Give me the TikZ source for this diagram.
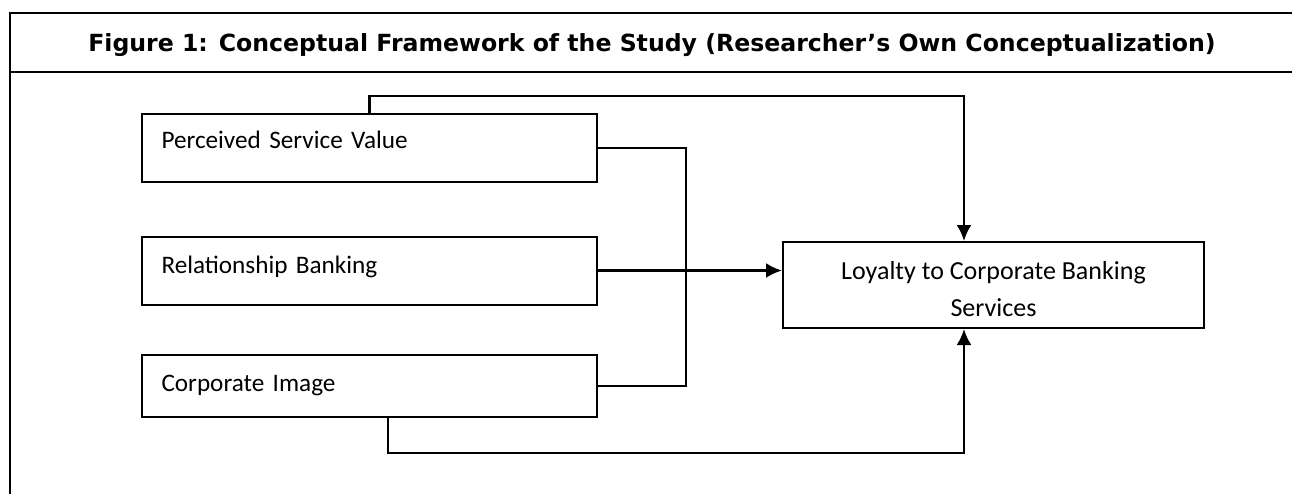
\documentclass[tikz,border=0pt]{standalone}
\usepackage{fontspec}
\setmainfont{Carlito}
\newfontfamily\headfont{DejaVu Sans}
\usetikzlibrary{positioning, arrows.meta}

\begin{document}
\begin{tikzpicture}[x=0.5pt,y=-0.5pt,on grid,
    factor/.style={draw,line width=1pt,minimum height=34pt,text width=208pt,
      inner xsep=9.75pt,align=left,text depth=8pt,font=\fontsize{12.6}{15}\selectfont},
    outcome/.style={draw,line width=1pt,minimum width=210.5pt,minimum height=43pt,
      align=center,font=\fontsize{13}{18.5}\selectfont},
    link/.style={line width=1.2pt,-{Latex[length=8pt,width=7.5pt]}},
    bracket/.style={line width=0.7pt}]
  \useasboundingbox (0,0) rectangle (1292,494);
  % Frame and heading
  \draw[line width=0.6pt] (1292,13) -| (10,494);
  \draw[line width=0.6pt] (10,72) -- (1292,72);
  \node (title) at (652,45) {\fontsize{11.8}{14}\selectfont\headfont\bfseries
    Figure 1: Conceptual Framework of the Study (Researcher’s Own Conceptualization)};
  % Nodes
  \node[factor] (psv) at (369.5,148) {Perceived Service Value};
  \node[factor,text depth=6pt] (rb) [below=61.25pt of psv] {Relationship Banking};
  \node[factor,minimum height=31pt,text depth=3pt] (ci) [below=57.75pt of rb] {Corporate Image};
  \node[outcome,text height=32pt] (loyal) at (993.5,285) {Loyalty to Corporate Banking\\Services};
  % Connectors
  \draw[link] (psv.north) -- ++(0,-17) -| ([xshift=-14.75pt]loyal.north);
  \draw[bracket] (psv.east) -- ++(88,0) |- (ci.east);
  \draw[link] (rb.east) -- (rb.east -| loyal.west);
  \draw[link] ([xshift=9.25pt]ci.south) -- ++(0,35) -| ([xshift=-14.75pt]loyal.south);
\end{tikzpicture}
\end{document}
